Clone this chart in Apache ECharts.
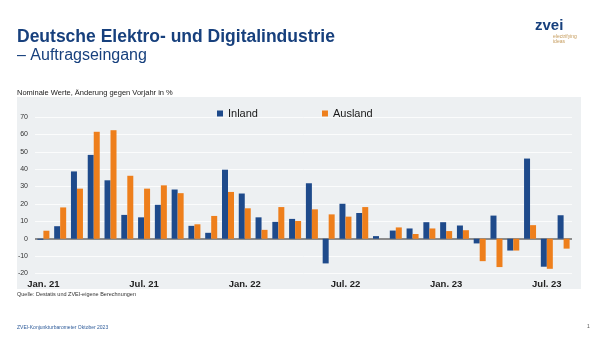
<!DOCTYPE html>
<html>
<head>
<meta charset="utf-8">
<script src="https://cdn.jsdelivr.net/npm/echarts@6/dist/echarts.min.js"></script>
<style>
  html, body { margin: 0; padding: 0; background: #ffffff; }
  #chart { width: 600px; height: 338px; }
</style>
</head>
<body>
<div id="chart"></div>
<script>
// Monthly order intake, nominal, change vs. previous year in %
var months = [
  'Jan. 21','Feb. 21','Mär. 21','Apr. 21','Mai 21','Jun. 21','Jul. 21','Aug. 21','Sep. 21','Okt. 21','Nov. 21','Dez. 21',
  'Jan. 22','Feb. 22','Mär. 22','Apr. 22','Mai 22','Jun. 22','Jul. 22','Aug. 22','Sep. 22','Okt. 22','Nov. 22','Dez. 22',
  'Jan. 23','Feb. 23','Mär. 23','Apr. 23','Mai 23','Jun. 23','Jul. 23','Aug. 23'
];
var inland = [
  -0.6, 7.2, 38.7, 48.2, 33.6, 13.7, 12.3, 19.5, 28.3, 7.4, 3.4, 39.7,
  26.0, 12.3, 9.7, 11.4, 31.9, -14.2, 20.1, 14.8, 1.5, 4.7, 5.9, 9.5,
  9.5, 7.6, -2.7, 13.3, -6.8, 46.1, -16.1, 13.5
];
var ausland = [
  4.6, 18.0, 28.8, 61.5, 62.4, 36.2, 28.8, 30.7, 26.2, 8.3, 13.1, 26.9,
  17.5, 5.1, 18.2, 10.2, 16.9, 14.0, 12.7, 18.2, 0, 6.5, 2.7, 5.9,
  4.4, 4.9, -12.9, -16.3, -6.8, 7.8, -17.3, -5.7
];
var seriesNames = ['Inland', 'Ausland'];
var yTicks = { min: -20, max: 70, step: 10 };

var blue = '#1e4a8b';
var orange = '#ee7f1c';
var navy = '#17407d';
var FONT = 'Liberation Sans, Arial, sans-serif';

var chart = echarts.init(document.getElementById('chart'), null, { renderer: 'canvas' });

chart.setOption({
  animation: false,
  backgroundColor: '#ffffff',
  textStyle: { fontFamily: FONT },
  graphic: [
    // panel behind the plot
    { type: 'rect', z: -10, shape: { x: 17, y: 97, width: 564, height: 192 },
      style: { fill: '#edf0f2' } },
    { type: 'text', x: 17, y: 37, style: { text: 'Deutsche Elektro- und Digitalindustrie',
      fill: navy, font: 'bold 17.5px ' + FONT, verticalAlign: 'middle' } },
    { type: 'text', x: 17, y: 55.5, style: { text: '– Auftragseingang',
      fill: navy, font: '16px ' + FONT, verticalAlign: 'middle' } },
    { type: 'text', x: 535, y: 26, style: { text: 'zvei',
      fill: navy, font: 'bold 15px ' + FONT, verticalAlign: 'middle' } },
    { type: 'text', x: 553, y: 37, style: { text: 'electrifying',
      fill: '#c49a5a', font: '5px ' + FONT, verticalAlign: 'middle' } },
    { type: 'text', x: 553, y: 42, style: { text: 'ideas',
      fill: '#c49a5a', font: '5px ' + FONT, verticalAlign: 'middle' } },
    { type: 'text', x: 17, y: 93, style: { text: 'Nominale Werte, Änderung gegen Vorjahr in %',
      fill: '#1a1a1a', font: '7.5px ' + FONT, verticalAlign: 'middle' } },
    { type: 'text', x: 17, y: 294, style: { text: 'Quelle: Destatis und ZVEI-eigene Berechnungen',
      fill: '#333333', font: '5.5px ' + FONT, verticalAlign: 'middle' } },
    { type: 'text', x: 17, y: 328, style: { text: 'ZVEI-Konjunkturbarometer Oktober 2023',
      fill: '#2f5c9a', font: '5px ' + FONT, verticalAlign: 'middle' } },
    { type: 'text', x: 587, y: 327, style: { text: '1',
      fill: '#555555', font: '5px ' + FONT, verticalAlign: 'middle' } }
  ],
  legend: {
    data: seriesNames,
    left: 217,
    top: 108,
    padding: 0,
    itemWidth: 6,
    itemHeight: 6,
    itemGap: 64,
    icon: 'rect',
    textStyle: { fontSize: 11, color: '#1a1a1a', fontFamily: FONT }
  },
  grid: { left: 35, right: 28, top: 117, bottom: 64.5, containLabel: false },
  xAxis: {
    type: 'category',
    data: months,
    axisLine: { show: false, onZero: false },
    axisTick: { show: false },
    axisLabel: {
      interval: 5,
      margin: 6,
      fontSize: 9.5,
      fontWeight: 'bold',
      color: '#222222',
      fontFamily: FONT
    }
  },
  yAxis: {
    type: 'value',
    min: yTicks.min,
    max: yTicks.max,
    interval: yTicks.step,
    axisLine: { show: false },
    axisTick: { show: false },
    axisLabel: { fontSize: 7, color: '#333333', margin: 7 },
    splitLine: { lineStyle: { color: '#fbfcfc', width: 1 } }
  },
  series: [
    {
      name: seriesNames[0],
      type: 'bar',
      data: inland,
      barWidth: 6,
      barGap: '0%',
      itemStyle: { color: blue },
      markLine: {
        silent: true,
        symbol: 'none',
        label: { show: false },
        lineStyle: { color: '#8c8c8c', width: 2, type: 'solid' },
        data: [{ yAxis: 0 }],
        z: 1
      }
    },
    {
      name: seriesNames[1],
      type: 'bar',
      data: ausland,
      barWidth: 6,
      barGap: '0%',
      itemStyle: { color: orange }
    }
  ]
});
</script>
</body>
</html>
